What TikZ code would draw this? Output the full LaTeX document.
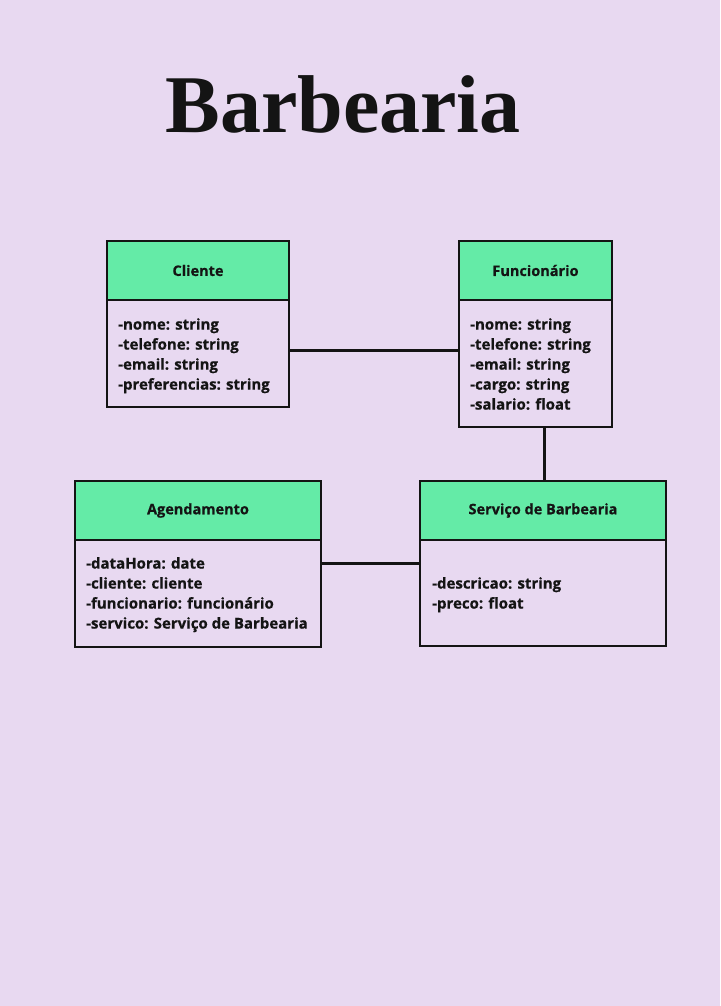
\documentclass[tikz,border=0pt]{standalone}
\usepackage{fontspec}
\setmainfont{Open Sans}[BoldFeatures={FakeBold=0.6}]
\newfontfamily\titlefont{Liberation Serif}
\definecolor{bgc}{HTML}{E8D9F1}
\definecolor{hdrc}{HTML}{64EBA7}
\definecolor{inkc}{HTML}{141414}
\begin{document}
\begin{tikzpicture}[x=1pt,y=-1pt,
  hdr/.style={draw=inkc,line width=1.8pt,fill=hdrc,anchor=north west,inner sep=0pt,outer sep=0pt,
    font=\fontsize{14.5}{17}\selectfont\bfseries,text=inkc},
  bodybox/.style={draw=inkc,line width=1.8pt,fill=bgc,anchor=north west,inner sep=0pt,outer sep=0pt},
  attr/.style={anchor=north west,inner sep=0pt,align=left,
    font=\fontsize{15}{20}\selectfont\bfseries,text=inkc},
  conn/.style={draw=inkc,line width=3pt}]
\fill[bgc] (0,0) rectangle (720,1006);
\useasboundingbox (0,0) rectangle (720,1006);
\node[font=\titlefont\fontsize{82}{90}\selectfont\bfseries,text=inkc] (title) at (343,104) {Barbearia};

% Cliente
\node[hdr,minimum width=182pt,minimum height=59pt] (cliH) at (107,241) {Cliente};
\node[bodybox,minimum width=182pt,minimum height=107pt] (cliB) at (cliH.south west) {};
\node[attr] (cliT) at (118,318) {-nome: string\\-telefone: string\\-email: string\\-preferencias: string};

% Funcionario
\node[hdr,minimum width=153pt,minimum height=59pt] (funH) at (459,241) {Funcionário};
\node[bodybox,minimum width=153pt,minimum height=127pt] (funB) at (funH.south west) {};
\node[attr] (funT) at (470,318) {-nome: string\\-telefone: string\\-email: string\\-cargo: string\\-salario: float};

% Agendamento
\node[hdr,minimum width=246pt,minimum height=59pt] (agH) at (75,481) {Agendamento};
\node[bodybox,minimum width=246pt,minimum height=107pt] (agB) at (agH.south west) {};
\node[attr] (agT) at (86,557) {-dataHora: date\\-cliente: cliente\\-funcionario: funcionário\\-servico: Serviço de Barbearia};

% Servico
\node[hdr,minimum width=246pt,minimum height=59pt] (svH) at (420,481) {Serviço de Barbearia};
\node[bodybox,minimum width=246pt,minimum height=106pt] (svB) at (svH.south west) {};
\node[attr] (svT) at (432,577) {-descricao: string\\-preco: float};

% connectors
\draw[conn] (cliB.east |- 0,350) -- (funB.west |- 0,350);
\draw[conn] (funB.south -| 544,0) -- (svH.north -| 544,0);
\draw[conn] (agB.east |- 0,563) -- (svB.west |- 0,563);
\end{tikzpicture}
\end{document}
